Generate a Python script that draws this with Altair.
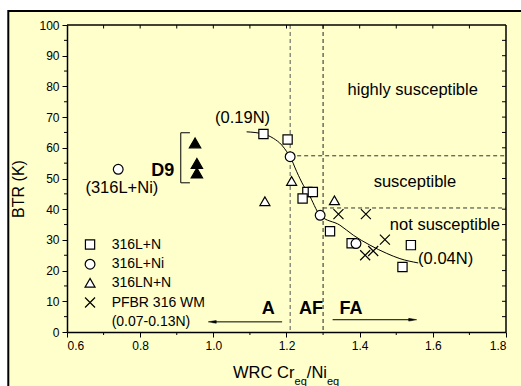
import altair as alt
import pandas as pd

# ---------------- data ----------------
sq_x = [1.137, 1.203, 1.257, 1.272, 1.244, 1.319, 1.378, 1.540, 1.517]
sq_y = [64.5, 62.7, 45.6, 45.6, 43.5, 32.8, 28.9, 28.3, 21.2]
ci_x = [0.740, 1.210, 1.292, 1.390]
ci_y = [53.0, 57.1, 38.0, 28.8]
tri_x = [1.141, 1.214, 1.331]
tri_y = [42.6, 49.2, 42.9]
d9_x = [0.950, 0.955, 0.955]
d9_y = [61.6, 54.9, 51.8]
cr_x = [1.342, 1.417, 1.469, 1.415, 1.437]
cr_y = [38.4, 38.4, 30.1, 25.0, 26.4]

curve_x = [1.091, 1.137, 1.164, 1.187, 1.201, 1.210, 1.228, 1.246, 1.260,
           1.292, 1.346, 1.383, 1.428, 1.474, 1.510, 1.560]
curve_y = [65.2, 64.5, 63.1, 60.9, 58.7, 57.1, 52.2, 47.8, 45.1,
           38.0, 34.8, 31.5, 28.3, 25.6, 23.9, 22.5]

vline_x = [1.21, 1.30]
hline_y = [57.4, 40.4]
hline_x0 = [1.21, 1.30]

ann_text = ["highly susceptible", "susceptible", "not susceptible", "(0.04N)", "(0.19N)", "(316L+Ni)"]
ann_x = [1.545, 1.551, 1.633, 1.635, 1.080, 0.750]
ann_y = [78.8, 48.9, 35.0, 23.9, 69.6, 46.8]

bold_text = ["D9", "A", "AF", "FA"]
bold_x = [0.862, 1.150, 1.267, 1.376]
bold_y = [52.4, 7.6, 7.6, 7.4]

leg_text = ["316L+N", "316L+Ni", "316LN+N", "PFBR 316 WM", "(0.07-0.13N)"]
leg_y = [28.5, 22.1, 16.0, 9.6, 3.3]
leg_sym_x = 0.663
leg_txt_x = 0.722

x_ticks = [0.6, 0.8, 1.0, 1.2, 1.4, 1.6, 1.8]
y_ticks = [0, 10, 20, 30, 40, 50, 60, 70, 80, 90, 100]
x_minor = [0.7, 0.9, 1.1, 1.3, 1.5, 1.7]
x_top = [0.7, 0.8, 0.9, 1.0, 1.1, 1.2, 1.3, 1.4, 1.5, 1.6, 1.7]
y_minor = [5, 15, 25, 35, 45, 55, 65, 75, 85, 95]
y_right = [5, 10, 15, 20, 25, 30, 35, 40, 45, 50, 55, 60, 65, 70, 75, 80, 85, 90, 95]

# ---------------- layout / style ----------------
W, H = 439, 307
FONT = "Liberation Sans"
YELLOW = "#FFFFCC"

xs = alt.Scale(domain=[0.6, 1.8], nice=False, zero=False)
ys = alt.Scale(domain=[0, 100], nice=False, zero=False)

xaxis = alt.Axis(values=x_ticks, format=".1f", tickSize=5, labelFontSize=12, labelFont=FONT,
                 labelColor="black", domainColor="black", domainWidth=1.5, tickColor="black",
                 tickWidth=1, grid=False, title=None, labelPadding=3, zindex=1)
yaxis = alt.Axis(values=y_ticks, format="d", tickSize=5, labelFontSize=12, labelFont=FONT,
                 labelColor="black", domainColor="black", domainWidth=1.5, tickColor="black",
                 tickWidth=1, grid=False, title=None, labelPadding=3, zindex=1)

one = pd.DataFrame({"a": [0]})

# frame / background
frame = alt.Chart(one).mark_rect(fill=YELLOW, stroke="black", strokeWidth=2).encode(
    x=alt.value(-58.7), x2=alt.value(W + 40), y=alt.value(-14), y2=alt.value(H + 80))

def X(f):
    return alt.X(f, type="quantitative", scale=xs, axis=xaxis)

def Y(f):
    return alt.Y(f, type="quantitative", scale=ys, axis=yaxis)

# dashed region lines
vl = alt.Chart(pd.DataFrame({"x": vline_x, "c": ["#555555", "#222222"]})).mark_rule(
    strokeDash=[4, 3], strokeWidth=1).encode(
    x=X("x"), y=alt.value(0), y2=alt.value(H), color=alt.Color("c:N", scale=None))
hl = alt.Chart(pd.DataFrame({"y": hline_y, "x0": hline_x0, "x1": [1.8, 1.8]})).mark_rule(
    strokeDash=[4, 3], strokeWidth=1, color="#333333").encode(
    y=Y("y"), x=X("x0"), x2="x1")

# minor ticks and box
t_bot = alt.Chart(pd.DataFrame({"x": x_minor})).mark_rule(color="black", strokeWidth=1).encode(
    x=X("x"), y=alt.value(H), y2=alt.value(H + 3))
t_top = alt.Chart(pd.DataFrame({"x": x_top})).mark_rule(color="black", strokeWidth=1).encode(
    x=X("x"), y=alt.value(0), y2=alt.value(3.5))
t_left = alt.Chart(pd.DataFrame({"y": y_minor})).mark_rule(color="black", strokeWidth=1).encode(
    y=Y("y"), x=alt.value(-3), x2=alt.value(0))
t_right = alt.Chart(pd.DataFrame({"y": y_right})).mark_rule(color="black", strokeWidth=1).encode(
    y=Y("y"), x=alt.value(W - 4), x2=alt.value(W))
box_top = alt.Chart(one).mark_rule(color="black", strokeWidth=1.5).encode(
    x=alt.value(0), x2=alt.value(W), y=alt.value(0))
box_right = alt.Chart(one).mark_rule(color="black", strokeWidth=1.5).encode(
    x=alt.value(W), y=alt.value(0), y2=alt.value(H))

# fitted curve
curve = alt.Chart(pd.DataFrame({"x": curve_x, "y": curve_y})).mark_line(
    color="black", strokeWidth=1, interpolate="monotone").encode(x=X("x"), y=Y("y"), order="x:Q")

XPATH = "M-1,-1L1,1M-1,1L1,-1"

def pts(xv, yv, shape, size, fill="white", filled=True):
    df = pd.DataFrame({"x": xv, "y": yv})
    if filled:
        m = alt.Chart(df).mark_point(shape=shape, size=size, filled=True, fill=fill,
                                     stroke="black", strokeWidth=1.2, opacity=1)
    else:
        m = alt.Chart(df).mark_point(shape=shape, size=size, filled=False,
                                     stroke="black", strokeWidth=1.2, opacity=1)
    return m.encode(x=X("x"), y=Y("y"))

p_sq = pts(sq_x, sq_y, "square", 85)
p_ci = pts(ci_x, ci_y, "circle", 95)
p_tri = pts(tri_x, tri_y, "triangle-up", 100)
p_d9 = pts(d9_x, d9_y, "triangle-up", 130, fill="black")
p_cr = pts(cr_x, cr_y, XPATH, 100, filled=False)

# legend (manual)
l_sq = pts([leg_sym_x], [leg_y[0]], "square", 85)
l_ci = pts([leg_sym_x], [leg_y[1]], "circle", 95)
l_tri = pts([leg_sym_x], [leg_y[2]], "triangle-up", 100)
l_cr = pts([leg_sym_x], [leg_y[3]], XPATH, 100, filled=False)
l_txt = alt.Chart(pd.DataFrame({"t": leg_text, "y": leg_y, "x": [leg_txt_x] * 5})).mark_text(
    align="left", baseline="middle", font=FONT, fontSize=14, color="black").encode(
    x=X("x"), y=Y("y"), text="t:N")

# annotations
ann = alt.Chart(pd.DataFrame({"t": ann_text, "x": ann_x, "y": ann_y})).mark_text(
    align="center", baseline="middle", font=FONT, fontSize=16.5, color="black").encode(
    x=X("x"), y=Y("y"), text="t:N")
bold = alt.Chart(pd.DataFrame({"t": bold_text, "x": bold_x, "y": bold_y})).mark_text(
    align="center", baseline="middle", font=FONT, fontSize=18, fontWeight="bold", color="black").encode(
    x=X("x"), y=Y("y"), text="t:N")

# D9 bracket
br_v = alt.Chart(pd.DataFrame({"x": [0.911], "y0": [48.6], "y1": [64.9]})).mark_rule(
    color="black", strokeWidth=1).encode(x=X("x"), y=Y("y0"), y2="y1")
br_h = alt.Chart(pd.DataFrame({"y": [48.6, 64.9], "x0": [0.911, 0.911], "x1": [0.936, 0.936]})).mark_rule(
    color="black", strokeWidth=1).encode(y=Y("y"), x=X("x0"), x2="x1")

# arrows
arr_l = alt.Chart(pd.DataFrame({"y": [3.3, 4.0], "x0": [0.997, 1.326], "x1": [1.188, 1.545]})).mark_rule(
    color="black", strokeWidth=1).encode(y=Y("y"), x=X("x0"), x2="x1")
head_l = alt.Chart(pd.DataFrame({"x": [0.997], "y": [3.3]})).mark_point(
    shape="M-1,0L1,-0.35L1,0.35Z", size=64, filled=True, fill="black", stroke="black",
    strokeWidth=0.5, opacity=1).encode(x=X("x"), y=Y("y"))
head_r = alt.Chart(pd.DataFrame({"x": [1.545], "y": [4.0]})).mark_point(
    shape="M1,0L-1,-0.35L-1,0.35Z", size=64, filled=True, fill="black", stroke="black",
    strokeWidth=0.5, opacity=1).encode(x=X("x"), y=Y("y"))

# axis titles (pixel placed)
def ptxt(t, x, y, size, baseline="alphabetic", angle=0, align="left"):
    m = alt.Chart(one).mark_text(text=t, font=FONT, fontSize=size, color="black",
                                 align=align, baseline=baseline, angle=angle)
    return m.encode(x=alt.value(x), y=alt.value(y))

tx1 = ptxt("WRC Cr", 166, 352.5, 16.5)
tx2 = ptxt("eq", 227.6, 359.5, 11)
tx3 = ptxt("/Ni", 239.8, 352.5, 16.5)
tx4 = ptxt("eq", 260.0, 359.5, 11)
ty = ptxt("BTR (K)", -48, 164, 16, baseline="middle", angle=270, align="center")

chart = alt.layer(
    frame, vl, hl, t_bot, t_top, t_left, t_right, box_top, box_right,
    curve, p_sq, p_ci, p_tri, p_d9, p_cr,
    l_sq, l_ci, l_tri, l_cr, l_txt, ann, bold, br_v, br_h, arr_l, head_l, head_r,
    tx1, tx2, tx3, tx4, ty
).properties(
    width=W, height=H,
    padding={"left": 67, "top": 25, "right": 15, "bottom": 54},
    autosize=alt.AutoSizeParams(type="none"),
    background="white"
).configure_view(stroke=None)

chart.save("out.html", embed_options={"renderer": "svg", "actions": False})
